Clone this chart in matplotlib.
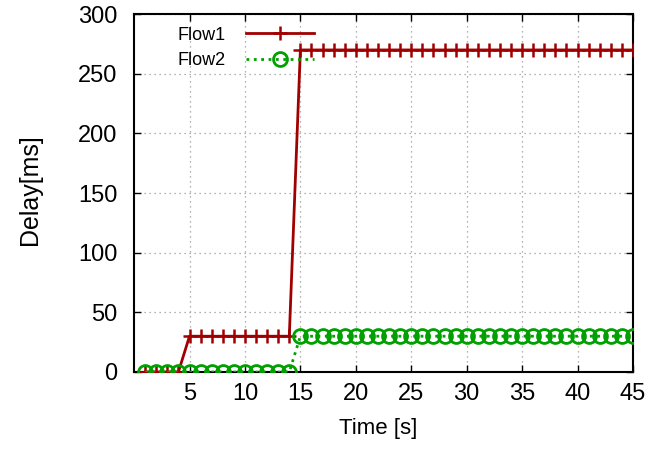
import numpy as np
import matplotlib.pyplot as plt

plt.rcParams['font.family'] = ['Liberation Sans', 'DejaVu Sans']

# delay per second of the run, two flows
time_s = list(range(1, 46))
flow1_delay = [0] * 4 + [30] * 10 + [270] * 31
flow2_delay = [0] * 14 + [30] * 31

x_ticks = [5, 10, 15, 20, 25, 30, 35, 40, 45]
y_ticks = [0, 50, 100, 150, 200, 250, 300]

red = '#a00000'
green = '#00a000'

fig = plt.figure(figsize=(6.67, 4.57), dpi=100)
ax = fig.add_axes([0.201, 0.186, 0.748, 0.783])

ax.plot(time_s, flow1_delay, color=red, lw=2, marker='+', ms=10, mew=1.8,
        label='Flow1', zorder=3)
ax.plot(time_s, flow2_delay, color=green, lw=2, ls=':', marker='o', ms=10,
        mew=2, mfc='none', label='Flow2', zorder=3)

ax.set_xlim(0, 45)
ax.set_ylim(0, 300)
ax.set_xticks(x_ticks)
ax.set_yticks(y_ticks)
ax.tick_params(direction='in', top=True, right=True, length=5,
               labelsize=17, width=1)
ax.tick_params(axis='y', pad=12)
ax.tick_params(axis='x', pad=8)
ax.set_xlabel('Time [s]', fontsize=16)
ax.set_ylabel('Delay[ms]', fontsize=18)
ax.xaxis.set_label_coords(0.489, -0.128)
ax.yaxis.set_label_coords(-0.184, 0.511)
ax.grid(True, ls=(0, (1, 3)), color='#999999', lw=0.9)
for s in ax.spines.values():
    s.set_linewidth(1.5)

ax.legend(loc='upper left', frameon=False, markerfirst=False, fontsize=13,
          handlelength=3.8, handletextpad=1.1, labelspacing=0.45,
          bbox_to_anchor=(0.062, 1.0), borderaxespad=0.3)

fig.savefig('out.png', dpi=100)
